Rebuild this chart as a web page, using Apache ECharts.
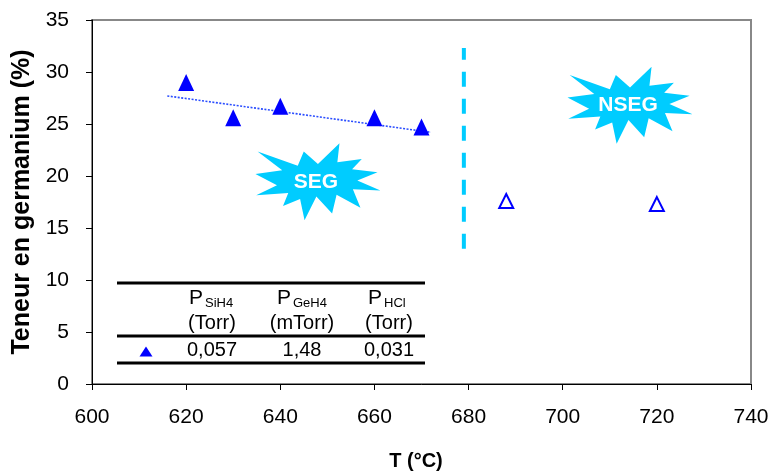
<!DOCTYPE html>
<html><head><meta charset="utf-8">
<script src="https://cdn.jsdelivr.net/npm/echarts@6/dist/echarts.min.js"></script>
<style>html,body{margin:0;padding:0;background:#fff}#c{width:773px;height:476px}</style>
</head><body><div id="c"></div><script>
// ---- data ----
const segT = [620, 630, 640, 660, 670];
const segGe = [29.0, 25.6, 26.7, 25.6, 24.7];
const nsegT = [688, 720];
const nsegGe = [17.6, 17.3];
const trendT = [616, 672];
const trendGe = [27.7, 24.2];
const limitT = [679, 679];
const limitGe = [13, 32.3];
const xTicks = [600, 620, 640, 660, 680, 700, 720, 740];
const yTicks = [0, 5, 10, 15, 20, 25, 30, 35];
const tableSubs = ['SiH4', 'GeH4', 'HCl'];
const tableUnits = ['(Torr)', '(mTorr)', '(Torr)'];
const tableValues = ['0,057', '1,48', '0,031'];
const regionNames = ['SEG', 'NSEG'];
const regionT = [648, 714.3];
const regionGe = [19.45, 26.8];

const FONT = '"Liberation Sans", Arial, sans-serif';
const zip = (a, b) => a.map((v, i) => [v, b[i]]);

const chart = echarts.init(document.getElementById('c'), null, {renderer: 'canvas'});
chart.setOption({
  animation: false,
  backgroundColor: '#fff',
  grid: {left: 92, right: 22, top: 20, bottom: 92, show: true, borderColor: '#888', borderWidth: 2},
  xAxis: {
    type: 'value', min: xTicks[0], max: xTicks[xTicks.length - 1], interval: 20,
    name: 'T (°C)', nameLocation: 'middle', nameGap: 67,
    nameTextStyle: {fontFamily: FONT, fontSize: 20, fontWeight: 'bold', color: '#000', padding: [0, 11, 0, 0]},
    axisLine: {lineStyle: {color: '#000', width: 1}},
    axisTick: {inside: false, length: 6, lineStyle: {color: '#000'}},
    axisLabel: {fontFamily: FONT, fontSize: 21, color: '#000', margin: 23},
    splitLine: {show: false}
  },
  yAxis: {
    type: 'value', min: yTicks[0], max: yTicks[yTicks.length - 1], interval: 5,
    name: 'Teneur en germanium (%)', nameLocation: 'middle', nameGap: 56,
    nameTextStyle: {fontFamily: FONT, fontSize: 25, fontWeight: 'bold', color: '#000'},
    axisLine: {show: true, lineStyle: {color: '#000', width: 1}},
    axisTick: {show: true, inside: false, length: 6, lineStyle: {color: '#000'}},
    axisLabel: {fontFamily: FONT, fontSize: 21, color: '#000', margin: 23},
    splitLine: {show: false}
  },
  series: [
    {type: 'line', data: zip(limitT, limitGe), symbol: 'none', silent: true,
     lineStyle: {color: '#00CCFF', width: 4, type: [15, 12]}, z: 1},
    {type: 'line', data: zip(trendT, trendGe), symbol: 'none', silent: true,
     lineStyle: {color: '#2a4dff', width: 1.6, type: [2, 1.5]}, z: 2},
    {type: 'scatter', data: zip(segT, segGe), symbol: 'triangle', symbolSize: [16, 17],
     itemStyle: {color: '#0000FF', opacity: 1}, z: 3},
    {type: 'scatter', data: zip(nsegT, nsegGe), symbol: 'triangle', symbolSize: [14, 14],
     itemStyle: {color: '#ffffff', borderColor: '#0000FF', borderWidth: 2, opacity: 1}, z: 3}
  ]
});

// Explosion (irregular seal) outline, normalised to a 21600 box
const seal = [[10800,5800],[14522,0],[14155,5325],[18380,4457],[16702,7315],[21097,8137],[17607,10475],
  [21600,13290],[16837,12942],[18145,18095],[14020,14457],[13247,19737],[10532,14935],[8485,21600],
  [7715,15627],[4762,17617],[5667,13937],[135,14587],[3722,11775],[0,8615],[4627,7617],[370,2295],
  [7312,6320],[8352,2295]];
const SW = 125, SH = 77;
const graphics = [];
regionNames.forEach((nm, i) => {
  const c = chart.convertToPixel({gridIndex: 0}, [regionT[i], regionGe[i]]);
  const pts = seal.map(p => [c[0] - SW / 2 + p[0] / 21600 * SW, c[1] - SH / 2 + p[1] / 21600 * SH]);
  graphics.push({type: 'polygon', shape: {points: pts}, style: {fill: '#00CCFF'}, z: 5});
  graphics.push({type: 'text', x: c[0] - 2, y: c[1], z: 6,
    style: {text: nm, fill: '#fff', font: 'bold 21px ' + FONT, align: 'center', verticalAlign: 'middle'}});
});

// data table
const tl = 117, tr = 425;
[283, 336, 363].forEach(y => graphics.push({type: 'line', z: 5,
  shape: {x1: tl, y1: y, x2: tr, y2: y}, style: {stroke: '#000', lineWidth: 3}}));
const colC = [212, 302, 389];
const pLeft = [189, 277, 368];
tableSubs.forEach((s, i) => {
  graphics.push({type: 'text', x: pLeft[i], y: 298, z: 6,
    style: {text: 'P', fill: '#000', font: '21px ' + FONT, align: 'left', verticalAlign: 'middle'}});
  graphics.push({type: 'text', x: pLeft[i] + 16, y: 303, z: 6,
    style: {text: s, fill: '#000', font: '13px ' + FONT, align: 'left', verticalAlign: 'middle'}});
  graphics.push({type: 'text', x: colC[i], y: 323, z: 6,
    style: {text: tableUnits[i], fill: '#000', font: '20px ' + FONT, align: 'center', verticalAlign: 'middle'}});
  graphics.push({type: 'text', x: colC[i], y: 350, z: 6,
    style: {text: tableValues[i], fill: '#000', font: '20px ' + FONT, align: 'center', verticalAlign: 'middle'}});
});
graphics.push({type: 'polygon', z: 6, shape: {points: [[146, 346.5], [152.5, 356.5], [139.5, 356.5]]},
  style: {fill: '#0000FF'}});
chart.setOption({graphic: graphics});
</script></body></html>
